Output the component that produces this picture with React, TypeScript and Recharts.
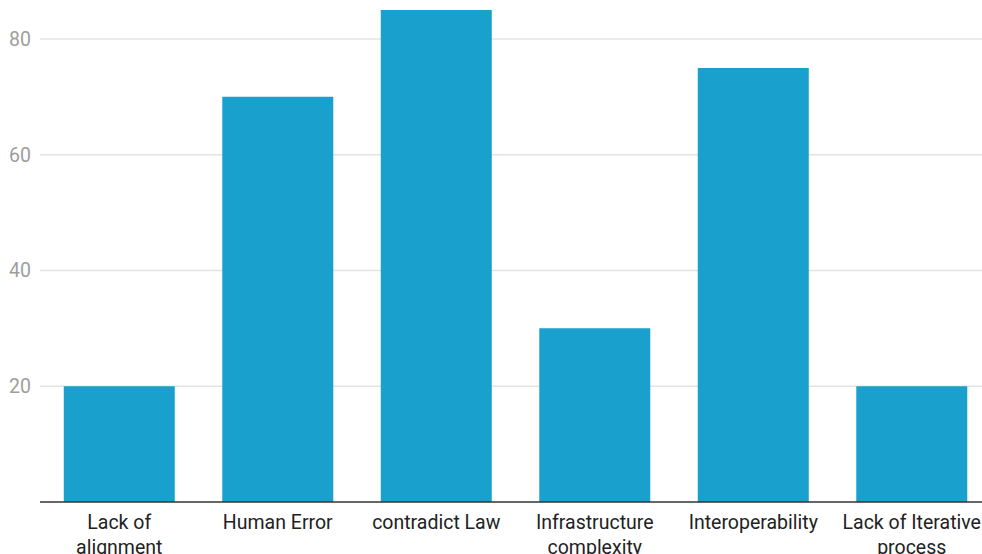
import React from "react";
import { BarChart, Bar, XAxis, YAxis, CartesianGrid } from "recharts";

const categories = [
  "Lack of\nalignment",
  "Human Error",
  "contradict Law",
  "Infrastructure\ncomplexity",
  "Interoperability",
  "Lack of Iterative\nprocess",
];
const values = [20, 70, 85, 30, 75, 20];
const yTicks = [20, 40, 60, 80];

const data = categories.map((c, i) => ({ name: c, value: values[i] }));

const FONT = "Roboto, 'Noto Sans', sans-serif";

const XTick = (props: any) => {
  const { x, y, payload } = props;
  const lines = String(payload.value).split("\n");
  return (
    <text x={x} y={y + 19} textAnchor="middle" fill="#222" fontSize={19.5} fontFamily={FONT}>
      {lines.map((l, i) => (
        <tspan key={i} x={x} dy={i === 0 ? 0 : 25}>
          {l}
        </tspan>
      ))}
    </text>
  );
};

const YTick = (props: any) => {
  const { y, payload } = props;
  return (
    <text x={31} y={y} dy={7} textAnchor="end" fill="#9e9e9e" fontSize={19.5} fontFamily={FONT}>
      {payload.value}
    </text>
  );
};

export default function App() {
  return (
    <div style={{ position: "absolute", left: 0, top: 0, width: 982, height: 554, overflow: "hidden", background: "#fff" }}>
      <BarChart
        width={991}
        height={554}
        data={data}
        margin={{ top: 10, right: 0, bottom: 0, left: 0 }}
        barCategoryGap="15%"
      >
        <CartesianGrid
          horizontal
          vertical={false}
          horizontalValues={yTicks}
          stroke="#e3e3e3"
          strokeWidth={1.5}
        />
        <XAxis
          dataKey="name"
          interval={0}
          height={52}
          tick={<XTick />}
          tickLine={false}
          axisLine={{ stroke: "#333", strokeWidth: 1.5 }}
        />
        <YAxis
          width={40}
          domain={[0, 85]}
          ticks={yTicks}
          tick={<YTick />}
          axisLine={false}
          tickLine={false}
        />
        <Bar dataKey="value" fill="#19a0cd" isAnimationActive={false} />
      </BarChart>
    </div>
  );
}
